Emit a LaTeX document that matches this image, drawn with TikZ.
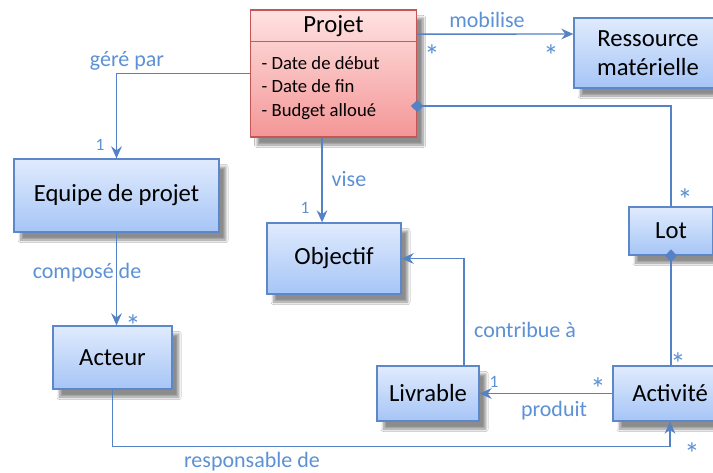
\documentclass[tikz,border=0pt]{standalone}
\usepackage{fontspec}
\setmainfont{Carlito}
\usetikzlibrary{arrows.meta,shadows.blur}

\definecolor{lienbleu}{RGB}{84,130,196}
\definecolor{textebleu}{RGB}{92,145,214}
\definecolor{bordbleu}{RGB}{92,135,200}
\definecolor{hautbleu}{RGB}{224,235,253}
\definecolor{basbleu}{RGB}{166,197,246}
\definecolor{bordrouge}{RGB}{196,86,86}
\definecolor{hautrouge}{RGB}{255,226,226}
\definecolor{basrouge}{RGB}{244,150,150}

\begin{document}
\begin{tikzpicture}[x=0.75pt, y=-0.75pt,
    classe/.style={draw=bordbleu, line width=1pt, top color=hautbleu, bottom color=basbleu,
        inner sep=0pt, align=center, font=\fontsize{18.5}{22}\selectfont,
        blur shadow={shadow xshift=5pt, shadow yshift=-6pt, shadow blur steps=10, shadow opacity=45}},
    projetbox/.style={classe, draw=bordrouge, top color=hautrouge, bottom color=basrouge},
    lien/.style={draw=lienbleu, line width=1.1pt},
    fleche/.style={lien, -{Stealth[length=9pt, width=8pt, inset=3pt]}},
    losange/.style={lien, {Diamond[length=9.5pt, width=9pt]}-, shorten <=-4.75pt},
    etiquette/.style={textebleu, font=\fontsize{16.5}{19}\selectfont},
    mult/.style={textebleu, font=\fontsize{13}{15}\selectfont},
    etoile/.style={textebleu, font=\fontsize{23}{25}\selectfont}
    ]

    \path [use as bounding box, fill=white] (0,0) rectangle (713,472);
    \clip (0,0) rectangle (713,472);

    % classes
    \node (projet) [projetbox, minimum width=124.5pt, minimum height=95.25pt] at (333.5,73.5) {};
    \node (ressource) [classe, minimum width=111pt, minimum height=52.5pt] at (648,53) {Ressource\\matérielle};
    \node (equipe) [classe, minimum width=153.75pt, minimum height=54.75pt] at (116.5,195.5) {Equipe de projet};
    \node (acteur) [classe, minimum width=89.25pt, minimum height=47.25pt] at (112.5,357.5) {Acteur};
    \node (objectif) [classe, minimum width=100.5pt, minimum height=53.25pt] at (334,258.5) {Objectif};
    \node (livrable) [classe, minimum width=76.5pt, minimum height=41.25pt] at (428,393.5) {Livrable};
    \node (activite) [classe, minimum width=85.5pt, minimum height=41.25pt] at (670,393.5) {Activité};
    \node (lot) [classe, minimum width=63pt, minimum height=36pt] at (671,231) {Lot};

    % contenu de Projet
    \node (projettitre) [font=\fontsize{18.5}{22}\selectfont] at (333.5,26) {Projet};
    \draw [lienbleu, line width=0.9pt]
        ([yshift=-24pt]projet.north west) -- ([yshift=-24pt]projet.north east);
    \node (projetattributs) [anchor=west, align=left, font=\fontsize{14}{17.6}\selectfont] at (257,88)
        {- Date de début\\- Date de fin\\- Budget alloué};

    % associations
    \draw [fleche] (projet.west) -| (equipe.north);
    \draw [fleche] ([yshift=29.6pt]projet.east) -- ([yshift=14.25pt]ressource.west);
    \draw [losange] ([yshift=-24.4pt]projet.east) -| (lot.north);
    \draw [fleche] ([xshift=-8.6pt]projet.south) -- ([xshift=-8.6pt]projet.south |- objectif.north);
    \draw [fleche] (equipe.south) -- (equipe.south |- acteur.north);
    \draw [fleche] (acteur.south) -- ++(0,57) -| (activite.south);
    \draw [fleche] ([xshift=27pt]livrable.north) |- (objectif.east);
    \draw [fleche] (activite.west) -- (livrable.east);
    \draw [losange] (lot.south) -- (lot.south |- activite.north);

    % libelles
    \node (gere) [etiquette] at (127,61) {géré par};
    \node (mobilise) [etiquette] at (487,20) {mobilise};
    \node (vise) [etiquette] at (349,179) {vise};
    \node (compose) [etiquette] at (87,273) {composé de};
    \node (responsable) [etiquette] at (252,462) {responsable de};
    \node (contribue) [etiquette] at (525,330) {contribue à};
    \node (produit) [etiquette] at (554,411) {produit};

    % multiplicites
    \node (m1) [mult] at (100,145) {1};
    \node (m5) [mult] at (305,208) {1};
    \node (m8) [mult] at (494,382) {1};
    \node (m2) [etoile] at (432,56) {*};
    \node (m3) [etoile] at (551,56) {*};
    \node (m4) [etoile] at (685,200) {*};
    \node (m6) [etoile] at (133,326) {*};
    \node (m7) [etoile] at (692,454) {*};
    \node (m9) [etoile] at (598,389) {*};
    \node (m10) [etoile] at (678,364) {*};

\end{tikzpicture}
\end{document}
